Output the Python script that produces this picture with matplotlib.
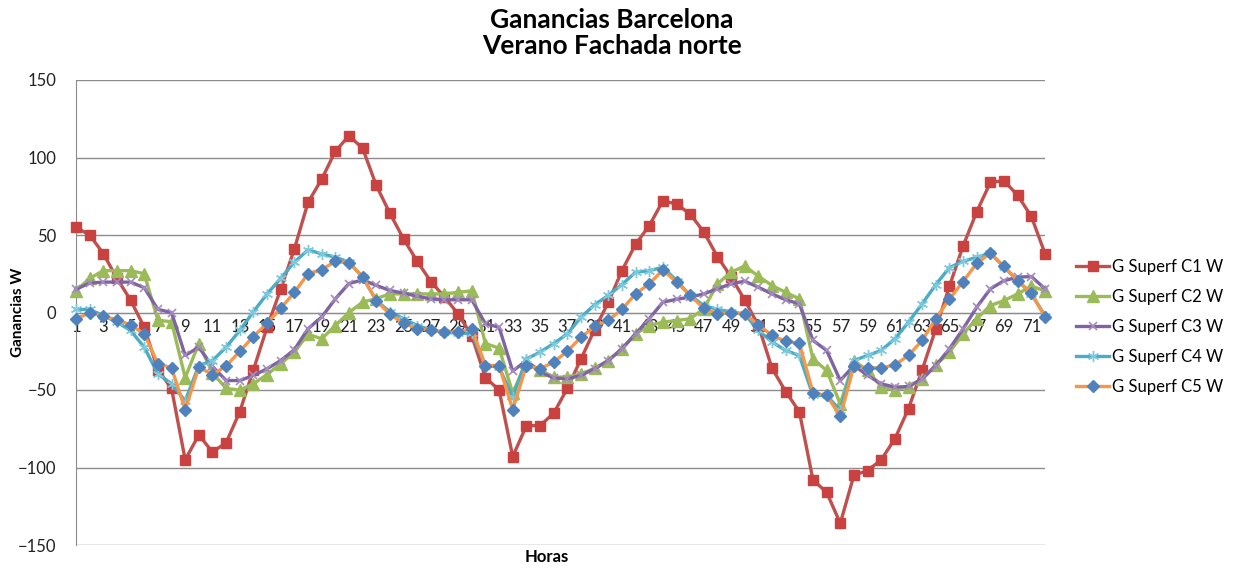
import matplotlib
matplotlib.use("Agg")
import matplotlib.pyplot as plt
import numpy as np

hours = list(range(1, 73))

c1 = [55, 50, 38, 22, 8, -9.5, -37, -49, -95, -79, -90, -84, -64, -37, -9.5, 15, 41, 71, 86, 104,
      114, 106, 82, 64, 47.5, 33, 20, 10, -1, -15, -42, -50, -93, -73, -73, -65, -49, -30, -11, 6.5,
      27, 44, 56, 72, 70, 63.5, 52, 36, 23, 8, -8.4, -36, -51, -64, -108, -116, -136, -105, -102, -95,
      -81.5, -62, -37, -10.5, 17, 43, 65, 84, 85, 75.5, 62, 38]
c2 = [14, 22, 27, 27, 27, 25, -5, -6, -42, -20, -39, -49, -50, -46, -40, -33, -25.6, -14, -17, -8.4,
      0, 6.7, 9, 12, 12, 12, 12, 12, 13, 14, -20, -23, -52, -32, -37, -41.7, -41.7, -39.6, -36, -31,
      -23.4, -13.8, -8.4, -6.2, -5.2, -4, 2.4, 18.5, 26, 30, 23.4, 17.4, 13, 8.8, -30, -37.4, -59, -31, -37.4, -48,
      -50, -48, -42.8, -34, -25.6, -13.8, -4, 4.5, 7.7, 12, 17, 14]
c3 = [15, 19, 19.6, 19.6, 19.6, 16, 2, 0, -27.7, -22.4, -34.8, -43.9, -43.9, -40.6, -36.3, -31, -24, -10.5, -3, 8.8,
      18.7, 21, 17.5, 14.2, 12.5, 10.5, 8.8, 8.2, 8.2, 8.2, -7.3, -9.5, -37.8, -31, -38.5, -42.2, -42.8, -40.6, -36.3, -31,
      -23.4, -13.8, -4, 6.7, 8.5, 10, 12, 15.3, 18.5, 20.2, 16.3, 12, 8.2, 5.6, -18, -24.5, -43.9, -34.2, -40.6, -46,
      -48.2, -47.7, -42.8, -34.2, -23.4, -10.5, 3.4, 15.3, 20.5, 22.8, 23.2, 15.3]
c4 = [2, 2, -2, -6.2, -11.6, -22.4, -39.6, -46, -57, -34.2, -31, -22.4, -11.6, 0.5, 12, 22, 32.5, 40.4, 37.8, 35.7,
      32.5, 22.8, 7.7, 0.5, -4, -8.4, -11.2, -12.7, -13.4, -13.4, -34.2, -35.3, -54.6, -30, -25.6, -20, -13.8, -3, 5, 11,
      18, 26, 27, 29.2, 20.6, 11, 4.5, 2, 0.4, -1, -11.6, -19, -24.5, -27.7, -53.5, -53.5, -63.2, -31, -27.7, -24.5,
      -17, -6.2, 5.6, 18, 29, 33, 35.7, 38.3, 29.2, 20.6, 12, -2]
c5 = [-4, -0.2, -2.4, -4.7, -8, -13.8, -33, -35.7, -62.6, -35.3, -40, -34.6, -25, -15.5, -6.9, 2.7, 13, 25, 27.7, 33,
      32, 23.2, 7.7, -1.2, -6.9, -10.5, -11.6, -12.7, -12.7, -10.5, -34.2, -34.2, -62.6, -34.2, -36.3, -32, -25, -16, -9, -5,
      2, 12, 18.5, 27.5, 19.6, 11, 2.7, -0.9, -0.2, -0.9, -8, -14.8, -18.7, -19.8, -51.8, -53.5, -66.9, -34.6, -35.7, -35.7,
      -33.8, -27.7, -18, -4, 8.8, 20, 31.8, 38.3, 29.7, 20.6, 12.5, -3]

labels = ["G Superf C1 W", "G Superf C2 W", "G Superf C3 W", "G Superf C4 W", "G Superf C5 W"]
title = "Ganancias Barcelona\nVerano Fachada norte"
yticks = [-150, -100, -50, 0, 50, 100, 150]

plt.rcParams['font.family'] = ['Lato', 'DejaVu Sans']

fig = plt.figure(figsize=(12.37, 5.72), dpi=100)
ax = fig.add_axes([76/1237, 1-545/572, (1045-76)/1237, (545-80)/572])

grid_c = '#8c8c8c'
styles = [
    dict(color='#c0504d', marker='s', ms=7.5, mfc='#c9423f', mec='#c9423f', lw=2.4),
    dict(color='#9bbb59', marker='^', ms=8, mfc='#9bbb59', mec='#9bbb59', lw=2.4),
    dict(color='#8064a2', marker='x', ms=6, mfc='#8064a2', mec='#a58cc0', mew=1.2, lw=2.4),
    dict(color='#4bacc6', marker=(6, 2, 0), ms=8, mfc='#4bacc6', mec='#7fc9dc', mew=1.0, lw=2.4),
    dict(color='#f79646', marker='D', ms=6, mfc='#4f81bd', mec='#4f81bd', lw=2.4),
]
series = [c1, c2, c3, c4, c5]
for s, lab, st in zip(series, labels, styles):
    ax.plot(hours, s, label=lab, clip_on=False, zorder=3, **st)

ax.set_xlim(1, 72)
ax.set_ylim(-150, 150)
ax.set_yticks(yticks)
ax.yaxis.grid(True, color=grid_c, lw=1.0)
ax.set_axisbelow(True)
ax.set_xticks(hours[::2])
ax.set_xticklabels([str(h) for h in hours[::2]])
ax.tick_params(axis='x', length=0, pad=5, labelsize=12, labelcolor='#222222')
ax.tick_params(axis='y', length=0, pad=14, labelsize=12, labelcolor='#222222')
ax.spines['top'].set_visible(False)
ax.spines['right'].set_visible(False)
ax.spines['bottom'].set_position(('data', 0))
ax.spines['bottom'].set_color(grid_c)
ax.spines['left'].set_color(grid_c)
for t in ax.get_xticklabels():
    t.set_zorder(4)

fig.text(18/1237, 1-312/572, "Ganancias W", ha='center', va='center', rotation=90,
         fontsize=11, fontweight='bold')
fig.text(547/1237, 1-557/572, "Horas", ha='center', va='center', fontsize=12, fontweight='bold')
fig.text(612/1237, 1-33/572, title, ha='center', va='center', fontsize=19, fontweight='bold', linespacing=1.15)

leg = ax.legend(loc='center left', bbox_to_anchor=(1076/1237, 1-327/572), bbox_transform=fig.transFigure,
                frameon=False, fontsize=12, handlelength=2.0, labelspacing=0.85, handletextpad=0.15,
                borderpad=0, borderaxespad=0)

fig.savefig("out.png", dpi=100)
